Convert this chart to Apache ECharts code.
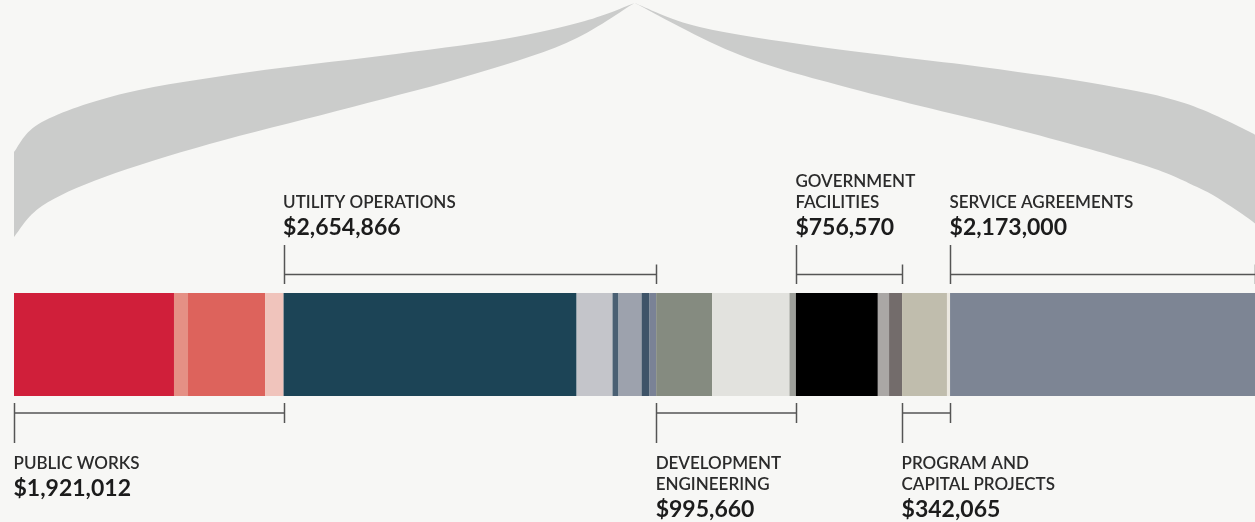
<!DOCTYPE html>
<html>
<head>
<meta charset="utf-8">
<style>
  html, body { margin: 0; padding: 0; background: #f7f7f5; }
  #chart { width: 1255px; height: 522px; }
</style>
<script src="https://cdn.jsdelivr.net/npm/echarts@6/dist/echarts.min.js"></script>
</head>
<body>
<div id="chart"></div>
<script>
// Budget components, left to right, and the department each belongs to
const segmentValues = [
  1140000, 100000, 549000, 132012,
  2088000, 256000, 43000, 164000, 57000, 46866,
  399000, 551000, 45660,
  584000, 80000, 92570,
  320000, 22065,
  2173000
];
const segmentGroup = [0, 0, 0, 0, 1, 1, 1, 1, 1, 1, 2, 2, 2, 3, 3, 3, 4, 4, 5];

// Departments
const groupNames = [
  'PUBLIC WORKS',
  'UTILITY OPERATIONS',
  'DEVELOPMENT\nENGINEERING',
  'GOVERNMENT\nFACILITIES',
  'PROGRAM AND\nCAPITAL PROJECTS',
  'SERVICE AGREEMENTS'
];
const groupTotals = [1921012, 2654866, 995660, 756570, 342065, 2173000];
const groupSide = ['bottom', 'top', 'bottom', 'top', 'bottom', 'top'];

// Fill for each component
const segmentColors = [
  '#d01f3a', '#e59085', '#dd635c', '#f0c4bc',
  '#1c4456', '#c4c5ca', '#4a6073', '#9da2ad', '#3e5468', '#7a8296',
  '#858b80', '#e2e2de', '#9d9f9a',
  '#000000', '#aaa7a5', '#736c6b',
  '#c0bdad', '#ebe8e0',
  '#7d8594'
];

const grandTotal = groupTotals.reduce((a, b) => a + b, 0);
const fmt = v => '$' + v.toLocaleString('en-US');

// bracket spans [start, end, yCategory, groupIndex]
const groupStarts = [];
groupTotals.reduce((acc, v, i) => { groupStarts[i] = acc; return acc + v; }, 0);
const bracketData = groupTotals.map((v, i) => [groupStarts[i], groupStarts[i] + v, 0, i]);

// Brace outline, as (fraction of half width, pixel y) pairs
const braceLeftUpper = [[0, 152], [0.045, 122], [0.18, 93], [0.38, 72], [0.59, 56], [0.79, 39], [0.92, 21], [1, 3]];
const braceLeftLower = [[0, 237], [0.045, 206], [0.146, 177], [0.315, 144], [0.52, 111], [0.72, 78], [0.89, 43], [1, 3]];
const braceRightUpper = [[-0.02, 145], [0.005, 133], [0.114, 103], [0.244, 85], [0.44, 67], [0.7, 47], [0.895, 27], [1, 3]];
const braceRightLower = [[-0.02, 236], [0.005, 221], [0.05, 202], [0.09, 188], [0.18, 165], [0.375, 131], [0.635, 91], [0.83, 55], [1, 3]];

function curvePath(pts, first) {
  let d = (first ? 'M' : 'L') + pts[0][0].toFixed(2) + ' ' + pts[0][1].toFixed(2);
  for (let i = 0; i < pts.length - 1; i++) {
    const p0 = pts[i - 1] || pts[i], p1 = pts[i], p2 = pts[i + 1], p3 = pts[i + 2] || pts[i + 1];
    const c1 = [p1[0] + (p2[0] - p0[0]) / 6, p1[1] + (p2[1] - p0[1]) / 6];
    const c2 = [p2[0] - (p3[0] - p1[0]) / 6, p2[1] - (p3[1] - p1[1]) / 6];
    d += ' C' + c1[0].toFixed(2) + ' ' + c1[1].toFixed(2) + ' ' + c2[0].toFixed(2) + ' ' + c2[1].toFixed(2) + ' ' + p2[0].toFixed(2) + ' ' + p2[1].toFixed(2);
  }
  return d;
}

function halfBrace(upper, lower, toX) {
  const up = upper.map(p => [toX(p[0]), p[1]]);
  const lo = lower.map(p => [toX(p[0]), p[1]]).reverse();
  return curvePath(up, true) + ' ' + curvePath(lo, false) + ' Z';
}

const chart = echarts.init(document.getElementById('chart'), null, { renderer: 'canvas' });

const FONT = 'Lato, "Open Sans", sans-serif';
const lineColor = '#555555';

const barSeries = segmentValues.map((v, i) => ({
  type: 'bar',
  stack: 'budget',
  name: groupNames[segmentGroup[i]],
  data: [v],
  barWidth: '100%',
  itemStyle: { color: segmentColors[i] },
  silent: true
}));

const bracketSeries = {
  type: 'custom',
  coordinateSystem: 'cartesian2d',
  clip: false,
  silent: true,
  z: 5,
  encode: { x: [0, 1], y: 2 },
  data: bracketData,
  renderItem: function (params, api) {
    const s = api.coord([api.value(0), 0]);
    const e = api.coord([api.value(1), 0]);
    const band = api.size([0, 1])[1];
    const top = s[1] - band / 2;
    const bottom = s[1] + band / 2;
    const gi = api.value(3);
    const x0 = Math.round(s[0]) + 0.5;
    const x1 = Math.round(e[0]) + 0.5;
    const lineStyle = { stroke: lineColor, lineWidth: 1.5 };
    const children = [];
    const nameStyle = {
      fill: '#2b2b2b',
      font: '600 17px ' + FONT,
      lineHeight: 21,
      align: 'left'
    };
    const valueStyle = {
      fill: '#1c1c1c',
      font: 'bold 23px ' + FONT,
      align: 'left',
      verticalAlign: 'middle'
    };
    if (groupSide[gi] === 'top') {
      const hy = top - 18.5;
      children.push(
        { type: 'line', shape: { x1: x0, y1: top - 48, x2: x0, y2: top - 9 }, style: lineStyle },
        { type: 'line', shape: { x1: x0, y1: hy, x2: x1, y2: hy }, style: lineStyle },
        { type: 'line', shape: { x1: x1, y1: hy - 10, x2: x1, y2: top - 9 }, style: lineStyle },
        { type: 'text', x: s[0] - 0.5, y: top - 65.5, style: Object.assign({ text: fmt(groupTotals[gi]) }, valueStyle) },
        { type: 'text', x: s[0] - 0.5, y: top - 80, style: Object.assign({ text: groupNames[gi], verticalAlign: 'bottom' }, nameStyle) }
      );
    } else {
      const hy = bottom + 17;
      const lines = groupNames[gi].split('\n').length;
      const nameTop = bottom + 57.5;
      children.push(
        { type: 'line', shape: { x1: x0, y1: bottom + 7, x2: x0, y2: bottom + 47 }, style: lineStyle },
        { type: 'line', shape: { x1: x0, y1: hy, x2: x1, y2: hy }, style: lineStyle },
        { type: 'line', shape: { x1: x1, y1: bottom + 7, x2: x1, y2: hy + 10 }, style: lineStyle },
        { type: 'text', x: s[0] - 0.5, y: nameTop, style: Object.assign({ text: groupNames[gi], verticalAlign: 'top' }, nameStyle) },
        { type: 'text', x: s[0] - 0.5, y: nameTop + lines * 21 + 14.5, style: Object.assign({ text: fmt(groupTotals[gi]) }, valueStyle) }
      );
    }
    return { type: 'group', children: children };
  }
};

const braceSeries = {
  type: 'custom',
  coordinateSystem: 'cartesian2d',
  clip: false,
  silent: true,
  z: 1,
  encode: { x: [0, 1], y: 2 },
  data: [[0, grandTotal, 0]],
  renderItem: function (params, api) {
    const L = api.coord([api.value(0), 0])[0];
    const R = api.coord([api.value(1), 0])[0];
    const M = (L + R) / 2;
    const W = M - L;
    const left = halfBrace(braceLeftUpper, braceLeftLower, u => L + u * W);
    const right = halfBrace(braceRightUpper, braceRightLower, v => R - v * W);
    const fill = { fill: '#cbcccb' };
    return {
      type: 'group',
      children: [
        { type: 'path', shape: { pathData: left }, style: fill },
        { type: 'path', shape: { pathData: right }, style: fill }
      ]
    };
  }
};

chart.setOption({
  backgroundColor: '#f7f7f5',
  animation: false,
  tooltip: { show: false },
  grid: { left: 14, top: 293, width: 1244, height: 103, containLabel: false },
  xAxis: { type: 'value', min: 0, max: grandTotal, show: false },
  yAxis: { type: 'category', data: ['Budget'], show: false, boundaryGap: true },
  series: barSeries.concat([bracketSeries, braceSeries])
});
</script>
</body>
</html>
